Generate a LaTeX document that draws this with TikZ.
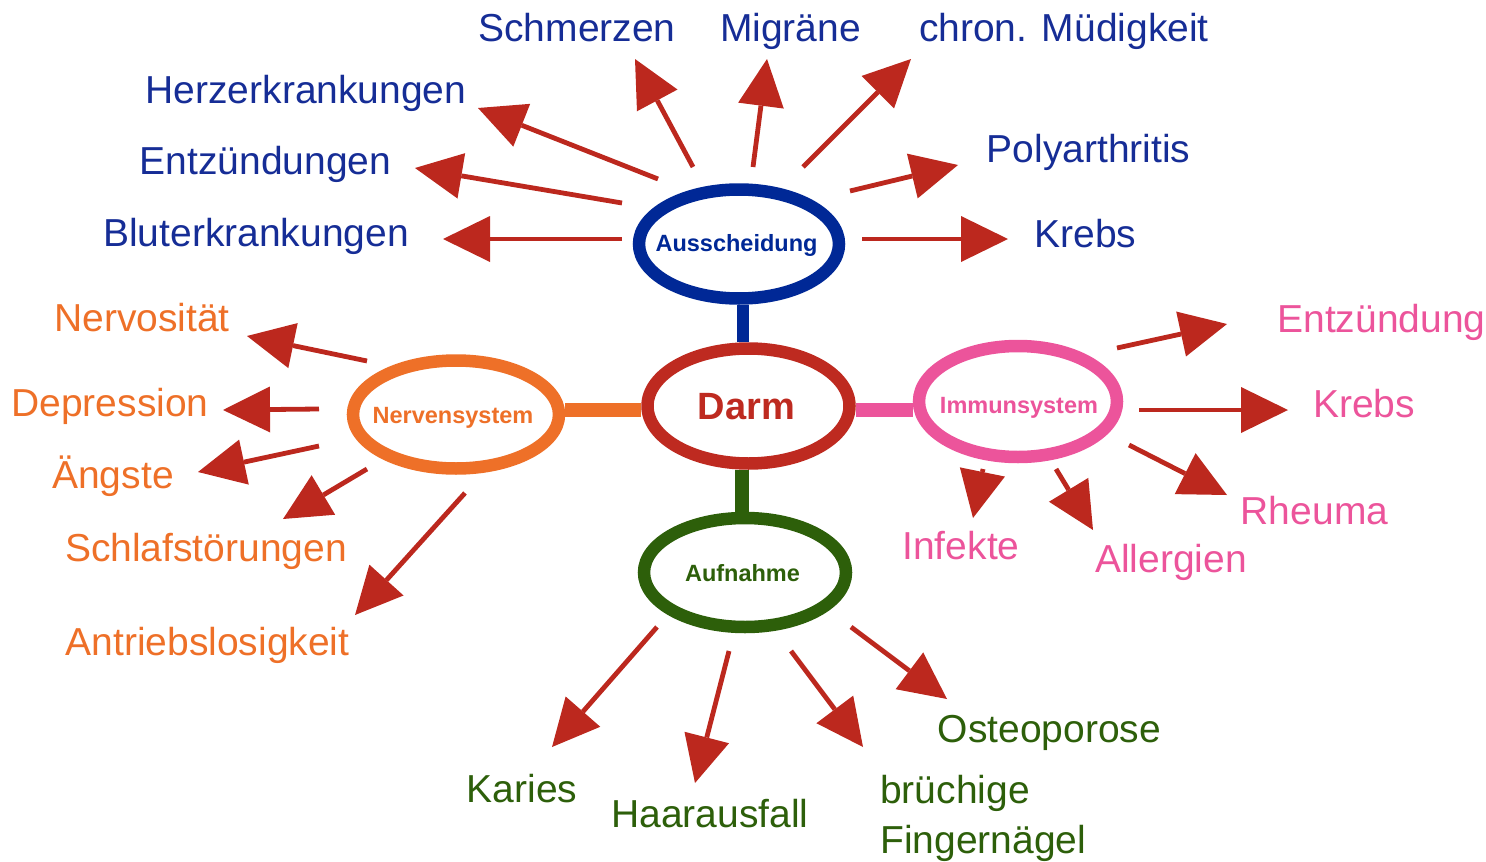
\documentclass[tikz,border=0pt]{standalone}
\usepackage{fontspec}
\setmainfont{Liberation Sans}
\usetikzlibrary{arrows.meta,shapes.geometric}
\definecolor{cblue}{RGB}{0,40,150}
\definecolor{tblue}{RGB}{22,45,150}
\definecolor{cred}{RGB}{188,40,30}
\definecolor{dred}{RGB}{190,42,32}
\definecolor{corange}{RGB}{238,112,40}
\definecolor{cpink}{RGB}{236,84,155}
\definecolor{cgreen}{RGB}{45,95,10}
\tikzset{
  ell/.style={ellipse, fill=white, line width=12.5pt, inner sep=0pt},
  hub/.style={inner sep=0pt, anchor=base, font=\bfseries\fontsize{23.5pt}{25pt}\selectfont},
  lbl/.style={inner sep=0pt, anchor=base, font=\fontsize{39pt}{41pt}\selectfont},
  arr/.style={draw=cred, line width=4.8pt, -{Triangle[length=47pt,width=46pt,line width=0pt]}},
  bar/.style={line width=#1}
}
\begin{document}
\begin{tikzpicture}[x=1pt,y=-1pt]
\useasboundingbox (0,0) rectangle (1486,862);
% ellipses (positions)
\path (739,244) node[ell, minimum width=200pt, minimum height=109pt] (aus) {};
\path (748.5,406) node[ell, minimum width=202pt, minimum height=115pt] (darm) {};
\path (456,414.5) node[ell, minimum width=206pt, minimum height=108pt] (nerv) {};
\path (1018,401.5) node[ell, minimum width=198pt, minimum height=111pt] (imm) {};
\path (745,572.5) node[ell, minimum width=202pt, minimum height=109pt] (auf) {};
% bars
\draw[cblue, bar=12pt] ([xshift=4pt]aus.south) -- ([xshift=4pt]aus.south |- darm.north);
\draw[corange, bar=14pt] ([yshift=-4pt]darm.west -| nerv.east) -- ([yshift=-4pt]darm.west);
\draw[cpink, bar=14pt] ([yshift=-4pt]darm.east) -- ([yshift=-4pt]darm.east -| imm.west);
\draw[cgreen, bar=14pt] ([xshift=-3pt]auf.north) -- ([xshift=-3pt]auf.north |- darm.south);
% redraw ellipses on top
\draw[ell, draw=cblue] (aus.center) ellipse [x radius=100pt, y radius=54.5pt];
\draw[ell, draw=dred] (darm.center) ellipse [x radius=101pt, y radius=57.5pt];
\draw[ell, draw=corange] (nerv.center) ellipse [x radius=103pt, y radius=54pt];
\draw[ell, draw=cpink] (imm.center) ellipse [x radius=99pt, y radius=55.5pt];
\draw[ell, draw=cgreen] (auf.center) ellipse [x radius=101pt, y radius=54.5pt];
% hub labels
\node[hub, text=cblue] (tAus) at (736.5,251) {Ausscheidung};
\node[hub, text=dred, font=\bfseries\fontsize{38pt}{40pt}\selectfont] (tDarm) at (746.5,419) {Darm};
\node[hub, text=corange] (tNerv) at (453,423) {Nervensystem};
\node[hub, text=cpink] (tImm) at (1019,413) {Immunsystem};
\node[hub, text=cgreen] (tAuf) at (742.5,581) {Aufnahme};
% outer labels
\begin{scope}[every node/.append style={lbl, text=tblue}]
\node (schm) at (577,41) {Schmerzen};
\node (migr) at (790.5,41) {Migräne};
\node (mued) at (1064,41) {chron. Müdigkeit};
\node (herz) at (306,103) {Herzerkrankungen};
\node (entz) at (265.5,174) {Entzündungen};
\node (blut) at (256,246) {Bluterkrankungen};
\node (poly) at (1088.5,162) {Polyarthritis};
\node (krb1) at (1085.5,247) {Krebs};
\end{scope}
\begin{scope}[every node/.append style={lbl, text=corange}]
\node (nerz) at (142,331) {Nervosität};
\node (depr) at (110,416) {Depression};
\node (angs) at (113,488) {Ängste};
\node (schl) at (206,561) {Schlafstörungen};
\node (antr) at (207.5,655) {Antriebslosigkeit};
\end{scope}
\begin{scope}[every node/.append style={lbl, text=cpink}]
\node (entz2) at (1381.5,332) {Entzündung};
\node (krb2) at (1364,417) {Krebs};
\node (rheu) at (1314.5,524) {Rheuma};
\node (infe) at (961,559) {Infekte};
\node (alle) at (1171,572) {Allergien};
\end{scope}
\begin{scope}[every node/.append style={lbl, text=cgreen}]
\node (kari) at (522,802) {Karies};
\node (haar) at (710,827) {Haarausfall};
\node (oste) at (1049.5,742) {Osteoporose};
\node[anchor=base west] (brue) at (880,803) {brüchige};
\node[anchor=base west] (fing) at (880,853) {Fingernägel};
\end{scope}
% arrow end points
\coordinate (a1) at (658,179); \coordinate (b1) at (478,108);
\coordinate (a2) at (622,203); \coordinate (b2) at (415,168);
\coordinate (a3) at (622,239); \coordinate (b3) at (443,239);
\coordinate (a4) at (693,167); \coordinate (b4) at (635,59);
\coordinate (a5) at (753,167); \coordinate (b5) at (767,59);
\coordinate (a6) at (803,167); \coordinate (b6) at (911,59);
\coordinate (a7) at (850,191); \coordinate (b7) at (958,165);
\coordinate (a8) at (862,239); \coordinate (b8) at (1008,239);
\coordinate (n1) at (367,361); \coordinate (m1) at (247,336);
\coordinate (n2) at (319,409); \coordinate (m2) at (223,410);
\coordinate (n3) at (319,446); \coordinate (m3) at (198,472);
\coordinate (n4) at (367,469); \coordinate (m4) at (283,519);
\coordinate (n5) at (465,493); \coordinate (m5) at (355,615);
\coordinate (i1) at (1117,348); \coordinate (j1) at (1227,324);
\coordinate (i2) at (1139,410); \coordinate (j2) at (1288,410);
\coordinate (i3) at (1129,445); \coordinate (j3) at (1227,495);
\coordinate (i4) at (983,469); \coordinate (j4) at (973,518);
\coordinate (i5) at (1056,469); \coordinate (j5) at (1093,530);
\coordinate (u1) at (657,627); \coordinate (v1) at (552,747);
\coordinate (u2) at (729,651); \coordinate (v2) at (695,783);
\coordinate (u3) at (791,651); \coordinate (v3) at (863,747);
\coordinate (u4) at (851,627); \coordinate (v4) at (947,699);
\foreach \k in {1,...,8} {\draw[arr] (a\k) -- (b\k);}
\foreach \k in {1,...,5} {\draw[arr] (n\k) -- (m\k);}
\foreach \k in {1,...,5} {\draw[arr] (i\k) -- (j\k);}
\foreach \k in {1,...,4} {\draw[arr] (u\k) -- (v\k);}
\end{tikzpicture}
\end{document}
